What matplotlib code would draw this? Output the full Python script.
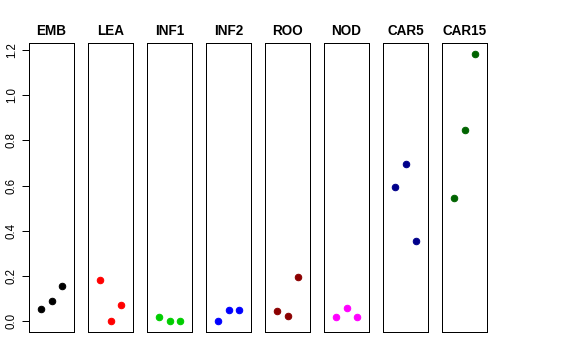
import numpy as np
import matplotlib
matplotlib.use("Agg")
import matplotlib.pyplot as plt

plt.rcParams['font.family'] = ['Liberation Sans', 'DejaVu Sans']

groups = ["EMB", "LEA", "INF1", "INF2", "ROO", "NOD", "CAR5", "CAR15"]
colors = ["black", "red", "#00CD00", "blue", "#8B0000", "magenta", "#00008B", "#006400"]
values = [
    [0.053, 0.090, 0.154],
    [0.183, 0.002, 0.073],
    [0.021, 0.001, 0.001],
    [0.001, 0.052, 0.048],
    [0.045, 0.025, 0.198],
    [0.020, 0.060, 0.020],
    [0.594, 0.698, 0.356],
    [0.545, 0.847, 1.184],
]
positions = [1, 2, 3]
yticks = [0.0, 0.2, 0.4, 0.6, 0.8, 1.0, 1.2]

fig = plt.figure(figsize=(8, 5), dpi=72)

W, H = 576.0, 360.0
left0, pw, step = 29, 45, 59
top, bottom = 43, 332
ymax = max(max(v) for v in values)

for i, (name, col, vals) in enumerate(zip(groups, colors, values)):
    ax = fig.add_axes([(left0 + i * step) / W, 1 - bottom / H, pw / W, (bottom - top) / H])
    ax.plot(positions, vals, "o", color=col, markersize=6.5, linestyle="none")
    ax.set_xlim(-0.16, 4.16)
    ax.set_ylim(-0.04 * ymax, 1.04 * ymax)
    ax.set_xticks([])
    for s in ax.spines.values():
        s.set_linewidth(1)
        s.set_color("black")
    ax.set_title(name, fontsize=13.5, fontweight="bold", pad=8)
    if i == 0:
        ax.set_yticks(yticks)
        ax.set_yticklabels([f"{t:.1f}" for t in yticks], rotation=90, va="center", fontsize=11.5)
        ax.tick_params(axis="y", length=7, width=1, pad=4)
    else:
        ax.set_yticks([])

fig.savefig("out.png", dpi=72)
